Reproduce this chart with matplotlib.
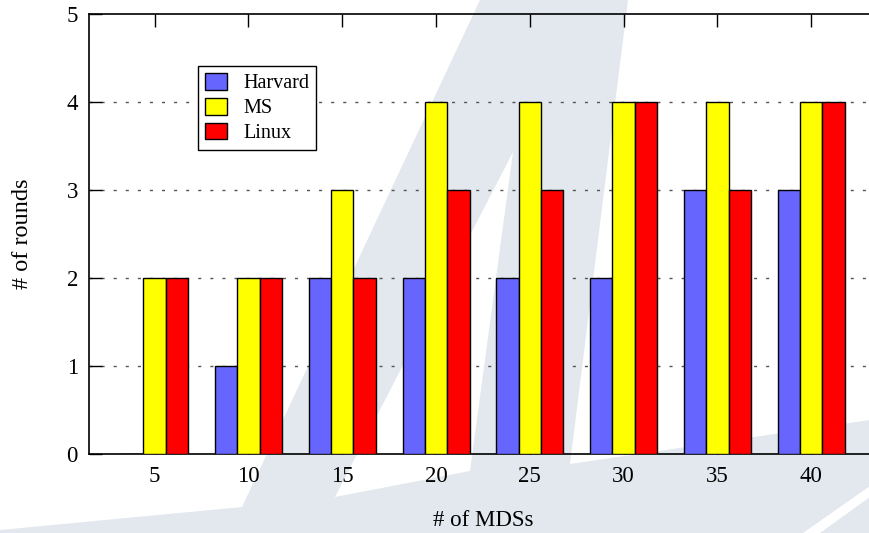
import matplotlib
matplotlib.use("Agg")
import matplotlib.pyplot as plt
from matplotlib.patches import Polygon
import numpy as np

# ---- data ----
categories = ["5", "10", "15", "20", "25", "30", "35", "40"]
harvard = [0, 1, 2, 2, 2, 2, 3, 3]
ms = [2, 2, 3, 4, 4, 4, 4, 4]
linux = [2, 2, 2, 3, 3, 4, 3, 4]
series_names = ["Harvard", "MS", "Linux"]
series_colors = ["#6666ff", "#ffff00", "#ff0000"]

W, H = 870, 533
plt.rcParams['font.family'] = ['Liberation Serif', 'DejaVu Serif']
plt.rcParams['lines.scale_dashes'] = False

fig = plt.figure(figsize=(W / 100, H / 100), dpi=100)

# ---- background watermark (pixel coords, y downward) ----
def px(pts):
    return [(x / W, 1 - y / H) for x, y in pts]

wm = "#e2e8ee"
sail = [(480, 0), (628, 0), (570, 464), (870, 420), (870, 533),
        (0, 533), (0, 530), (242, 507)]
notch = [(513, 152), (335, 497), (470, 471)]
stripe = [(803, 533), (820, 533), (870, 497), (870, 486)]
for pts, col in [(sail, wm), (notch, 'white'), (stripe, 'white')]:
    fig.patches.append(Polygon(px(pts), closed=True, transform=fig.transFigure,
                               facecolor=col, edgecolor='none', zorder=-5))

# ---- axes ----
unit = 93.79
x0_px, xmin, xmax = 89, -0.7, 7.7
ax_w = (xmax - xmin) * unit
ax = fig.add_axes([x0_px / W, 1 - 454 / H, ax_w / W, 440 / H])
ax.set_zorder(5)
ax.set_facecolor('none')
ax.patch.set_visible(False)

x = np.arange(len(categories))
bw = 0.238
for k, (vals, name, col) in enumerate(zip([harvard, ms, linux], series_names, series_colors)):
    ax.bar(x + (k - 1) * bw, vals, width=bw, color=col, edgecolor='black',
           linewidth=1.0, label=name, zorder=3)

ax.set_xlim(xmin, xmax)
ax.set_ylim(0, 5)
ax.set_xticks(x)
ax.set_xticklabels(categories)
ax.set_yticks([0, 1, 2, 3, 4, 5])

for yv in [1, 2, 3, 4]:
    ax.axhline(yv, color='#555555', linewidth=1.0, linestyle=(0, (2.2, 6.5)), zorder=1)

ax.tick_params(axis='both', direction='in', length=9, width=1.0, labelsize=16.5,
               colors='black')
ax.tick_params(axis='x', top=True, bottom=True, pad=9)
ax.tick_params(axis='y', left=True, right=False, pad=8)

for s in ['left', 'top', 'bottom']:
    ax.spines[s].set_linewidth(1.2)
    ax.spines[s].set_color('black')
ax.spines['right'].set_visible(False)

ax.set_ylabel("# of rounds", fontsize=17.5)
ax.yaxis.label.set_va('center')
ax.yaxis.set_label_coords((22 - x0_px) / ax_w, 0.5)
ax.set_xlabel("# of MDSs", fontsize=16.5)
ax.xaxis.label.set_va('center')
ax.xaxis.set_label_coords(0.5, (454 - 521) / 440)

leg = ax.legend(loc='upper left', bbox_to_anchor=((198 - x0_px) / ax_w, (454 - 66) / 440),
                borderaxespad=0, fontsize=14.5, frameon=True, fancybox=False,
                edgecolor='black', framealpha=1, handlelength=1.1, handleheight=0.9,
                handletextpad=0.8, labelspacing=0.22, borderpad=0.35)
leg.get_frame().set_linewidth(1.0)

fig.savefig("out.png", dpi=100)
